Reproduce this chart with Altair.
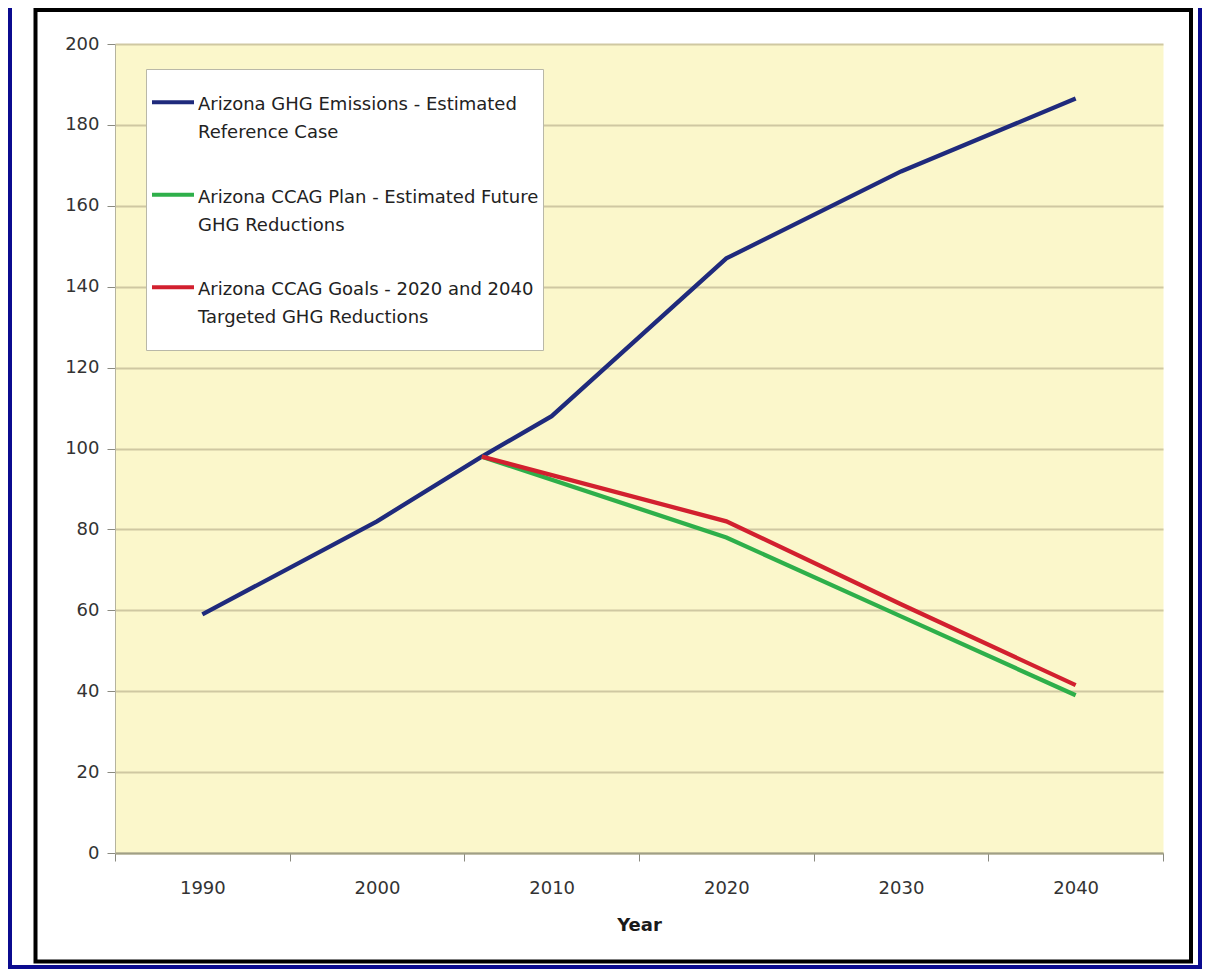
import altair as alt
import pandas as pd

# ---- data ----
series_names = [
    "Arizona GHG Emissions - Estimated|Reference Case",
    "Arizona CCAG Plan - Estimated Future|GHG Reductions",
    "Arizona CCAG Goals - 2020 and 2040|Targeted GHG Reductions",
]
series_colors = ["#1F2A7C", "#2EAF4A", "#D2202F"]

ref_years = [1990, 2000, 2006, 2010, 2020, 2030, 2040]
ref_values = [59, 82, 98, 108, 147, 168.5, 186.5]
plan_years = [2006, 2020, 2030, 2040]
plan_values = [98, 78, 58.5, 39]
goal_years = [2006, 2020, 2030, 2040]
goal_values = [98, 82, 61.5, 41.5]

y_ticks = list(range(0, 201, 20))
x_ticks = list(range(1985, 2046, 5))

rows = []
for name, yrs, vals in zip(series_names,
                           [ref_years, plan_years, goal_years],
                           [ref_values, plan_values, goal_values]):
    for yr, v in zip(yrs, vals):
        rows.append({"series": name, "year": yr, "value": v})
df = pd.DataFrame(rows)

FONT = "DejaVu Sans"

lines = alt.Chart(df).mark_line(strokeWidth=4.3).encode(
    x=alt.X(
        "year:Q",
        scale=alt.Scale(domain=[1985, 2045], nice=False, zero=False),
        axis=alt.Axis(
            title="Year",
            values=x_ticks,
            format="d",
            labelExpr="datum.value % 10 == 0 ? datum.label : ''",
            tickOpacity={"condition": {"test": "datum.value % 10 != 0", "value": 1}, "value": 0},
            grid=False,
            tickSize=8,
            labelPadding=18,
            labelFlush=False,
            labelOverlap=False,
            domainColor="#A09F86",
            domainWidth=2,
            titleFontWeight="bold",
            titleFontSize=18,
            titleColor="#1a1a1a",
            titlePadding=19,
        ),
    ),
    y=alt.Y(
        "value:Q",
        scale=alt.Scale(domain=[0, 200], nice=False),
        axis=alt.Axis(
            title=None,
            values=y_ticks,
            grid=True,
            tickSize=8,
            labelPadding=8,
            domainColor="#B5B39E",
            domainWidth=1,
        ),
    ),
    color=alt.Color(
        "series:N",
        scale=alt.Scale(domain=series_names, range=series_colors),
        legend=alt.Legend(
            title=None,
            orient="none",
            legendX=31,
            legendY=25,
            direction="vertical",
            fillColor="white",
            strokeColor="#B9B8A8",
            padding=4,
            rowPadding=3.5,
            symbolType="M-1,-0.729M-1,0.30H1M1,2.70",
            symbolSize=1764,
            symbolStrokeWidth=4,
            labelExpr="split(datum.label, '|')",
            labelBaseline="top",
            labelFont=FONT,
            labelFontSize=18,
            labelColor="#222222",
            labelLimit=0,
            labelOffset=2,
        ),
    ),
)

one = alt.Data(values=[{"k": 1}])

navy_edge = alt.Chart(one).mark_rect(
    fillOpacity=0, stroke="#0B0B8F", strokeWidth=8
).encode(
    x=alt.value(-107), x2=alt.value(1087), y=alt.value(-80), y2=alt.value(925)
)

black_frame = alt.Chart(one).mark_rect(
    fillOpacity=0, stroke="black", strokeWidth=4
).encode(
    x=alt.value(-79.5), x2=alt.value(1076), y=alt.value(-34), y2=alt.value(917.5)
)

chart = alt.layer(navy_edge, black_frame, lines).properties(
    width=1048,
    height=809,
    autosize=alt.AutoSizeParams(type="none"),
    padding={"left": 107, "top": 36, "right": 39, "bottom": 116},
    background="white",
).configure(
    style={"guide-label": {"lineHeight": 28}}
).configure_view(
    fill="#FBF7CB", strokeOpacity=0
).configure_axis(
    labelFont=FONT,
    labelFontSize=18,
    labelColor="#333333",
    titleFont=FONT,
    tickColor="#8A8A80",
    gridColor="#CFC8A2",
    gridWidth=2,
)

chart.save("out.html", embed_options={"renderer": "svg", "actions": False})
